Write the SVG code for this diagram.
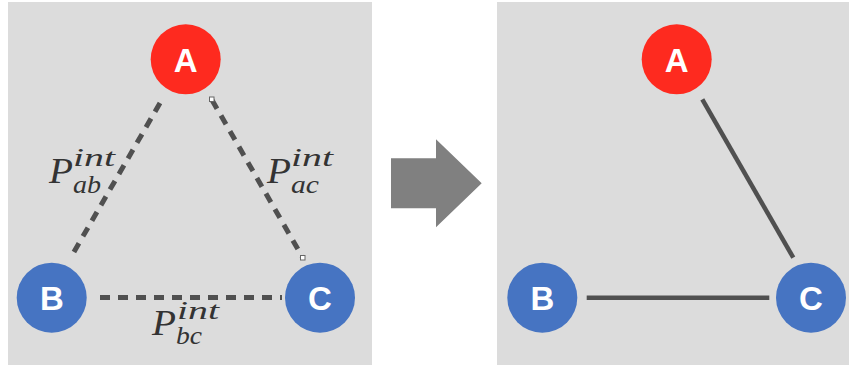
<svg xmlns="http://www.w3.org/2000/svg" width="849" height="368" viewBox="0 0 849 368">
  <style>
    .panel { fill: #dcdcdc; }
    .red { fill: #fe2a1f; }
    .blue { fill: #4674c2; }
    .letter { font-family: "Liberation Sans", Arial, sans-serif; font-weight: bold; font-size: 33px; fill: #ffffff; text-anchor: middle; }
    .dash { stroke: #505050; stroke-width: 5; stroke-dasharray: 10 8; fill: none; }
    .solid { stroke: #505050; stroke-width: 4.5; fill: none; }
    .math { font-family: "Liberation Serif", "Times New Roman", serif; font-style: italic; fill: #333333; }
    .big { font-size: 36px; }
    .small { font-size: 25px; }
    .handle { fill: #ffffff; stroke: #666666; stroke-width: 1; }
  </style>

  <!-- left panel: pairwise interaction graph -->
  <rect class="panel" x="8" y="2" width="364" height="363"/>

  <g id="connectors-left">
    <line class="dash" x1="160" y1="103" x2="71" y2="257"/>
    <line class="dash" x1="212" y1="100" x2="303" y2="258"/>
    <line class="dash" x1="100" y1="297.5" x2="282" y2="297.5"/>
    <rect class="handle" x="209.5" y="97" width="4.5" height="4.5"/>
    <rect class="handle" x="300.5" y="255.5" width="4.5" height="4.5"/>
  </g>

  <g id="label-ab">
    <text class="math big" x="49" y="183" textLength="24" lengthAdjust="spacingAndGlyphs">P</text>
    <text class="math small" x="73" y="166" textLength="42" lengthAdjust="spacingAndGlyphs">int</text>
    <text class="math small" x="73" y="193" textLength="28" lengthAdjust="spacingAndGlyphs">ab</text>
  </g>
  <g id="label-ac">
    <text class="math big" x="267" y="183" textLength="24" lengthAdjust="spacingAndGlyphs">P</text>
    <text class="math small" x="291" y="166" textLength="42" lengthAdjust="spacingAndGlyphs">int</text>
    <text class="math small" x="291" y="193" textLength="28" lengthAdjust="spacingAndGlyphs">ac</text>
  </g>
  <g id="label-bc">
    <text class="math big" x="152" y="335" textLength="24" lengthAdjust="spacingAndGlyphs">P</text>
    <text class="math small" x="177" y="319" textLength="42" lengthAdjust="spacingAndGlyphs">int</text>
    <text class="math small" x="176" y="344" textLength="26" lengthAdjust="spacingAndGlyphs">bc</text>
  </g>

  <g id="node-A-left">
    <circle class="red" cx="185.7" cy="59.3" r="35"/>
    <text class="letter" x="185.7" y="71.5">A</text>
  </g>
  <g id="node-B-left">
    <circle class="blue" cx="51.7" cy="297.7" r="35"/>
    <text class="letter" x="52" y="309.5">B</text>
  </g>
  <g id="node-C-left">
    <circle class="blue" cx="320" cy="297.7" r="35"/>
    <text class="letter" x="320" y="309.5">C</text>
  </g>

  <!-- transition arrow -->
  <polygon id="arrow" fill="#808080" points="391,158.3 436,158.3 436,139.3 481.7,183.3 436,227.3 436,208.3 391,208.3"/>

  <!-- right panel: resulting graph -->
  <rect class="panel" x="497" y="2" width="352" height="363"/>

  <g id="connectors-right">
    <line class="solid" x1="702.3" y1="99.3" x2="793.3" y2="257.7"/>
    <line class="solid" x1="586.7" y1="297.7" x2="769.3" y2="297.7"/>
  </g>

  <g id="node-A-right">
    <circle class="red" cx="676.7" cy="59.3" r="35"/>
    <text class="letter" x="676.7" y="71.5">A</text>
  </g>
  <g id="node-B-right">
    <circle class="blue" cx="542.3" cy="297.7" r="35"/>
    <text class="letter" x="542.5" y="309.5">B</text>
  </g>
  <g id="node-C-right">
    <circle class="blue" cx="811" cy="297.7" r="35"/>
    <text class="letter" x="811" y="309.5">C</text>
  </g>
</svg>
